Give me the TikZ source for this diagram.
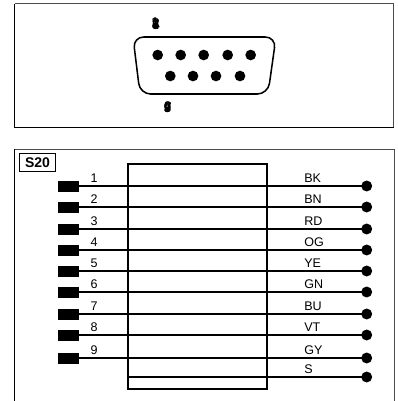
\documentclass[tikz,border=0pt]{standalone}
\usepackage{fontspec}
\setmainfont{Liberation Sans}
\tikzset{
  px/.style={x=0.75pt,y=-0.75pt},
  wire/.style={line width=1.15pt,black},
  plugbox/.style={draw=none,fill=black,minimum width=15.75pt,minimum height=8.25pt,inner sep=0pt,outer sep=0pt},
  enddot/.style={circle,fill=black,minimum size=8.2pt,inner sep=0pt,outer sep=0pt},
  pindot/.style={circle,fill=black,minimum size=8pt,inner sep=0pt,outer sep=0pt},
  lab/.style={font=\fontsize{9.4pt}{10pt}\selectfont,inner sep=0pt,anchor=base},
  collab/.style={font=\fontsize{9.4pt}{10pt}\selectfont,inner sep=0pt,anchor=base west},
  pinlab/.style={font=\fontsize{9.5pt}{10pt}\selectfont\bfseries,inner sep=0pt,anchor=center},
  frameedge/.style={line width=0.75pt,black!70},
  frameedgedark/.style={line width=0.75pt,black},
}
\begin{document}
\begin{tikzpicture}[px]
\useasboundingbox (0,0) rectangle (398,401);
% upper frame
\draw[frameedge] (393.5,127) -- (393.5,3.8) -- (14.7,3.8);
\draw[frameedgedark] (14.7,3.8) -- (14.7,127) -- (393.9,127);
% connector shell
\draw[line width=1.15pt,rounded corners=8pt] (133,37) -- (276,37) -- (268,94) -- (140,94) -- cycle;
\foreach \i/\x in {a/157.7,b/180.7,c/203.7,d/227.7,e/250.7}
  \node[pindot] (top\i) at (\x,55) {};
\foreach \i/\x in {a/170.3,b/193,c/216,d/240}
  \node[pindot] (bot\i) at (\x,76) {};
\foreach \t/\o/\h in {1/-1.6/-0.6,2/-0.8/0.4,3/0/-0.3,4/0.8/0.4,5/1.6/0}
  \node[pinlab] (toplab\t) at (155.7+\h,24+\o) {\t};
\foreach \t/\o/\h in {6/-1/0,7/-0.4/0.4,8/0.4/0,9/1/-0.3}
  \node[pinlab] (botlab\t) at (167.7+\h,107.5+\o) {\t};
% lower frame
\draw[frameedge] (394,401) -- (394,149) -- (14.7,149);
\draw[frameedgedark] (14.7,149) -- (14.7,401);
\node[draw,line width=0.6pt,minimum width=27.5pt,minimum height=14pt,inner sep=0pt,font=\fontsize{10.5pt}{12pt}\selectfont\bfseries] (tag) at (37.5,162.5) {S20};
% central box
\node[draw,line width=1.15pt,minimum width=104.25pt,minimum height=168.75pt,inner sep=0pt,outer sep=0pt] (body) at (197.5,276.5) {};
% wires
\foreach \n/\y/\c in {1/186/BK,2/207/BN,3/229/RD,4/250/OG,5/271/YE,6/292/GN,7/314/BU,8/335/VT,9/358/GY}{
  \node[plugbox] (plug\n) at (68.5,\y) {};
  \node[enddot] (dot\n) at (366.7,\y) {};
  \draw[wire] (plug\n.east) -- (dot\n.center);
  \node[lab] (num\n) at (94,\y-4) {\n};
  \node[collab] (col\n) at (304,\y-4) {\c};
}
\coordinate (sstart) at (128,377);
\node[enddot] (dotS) at (366.7,377) {};
\draw[wire] (sstart) -- (dotS.center);
\node[collab] (colS) at (304,373) {S};
\end{tikzpicture}
\end{document}
